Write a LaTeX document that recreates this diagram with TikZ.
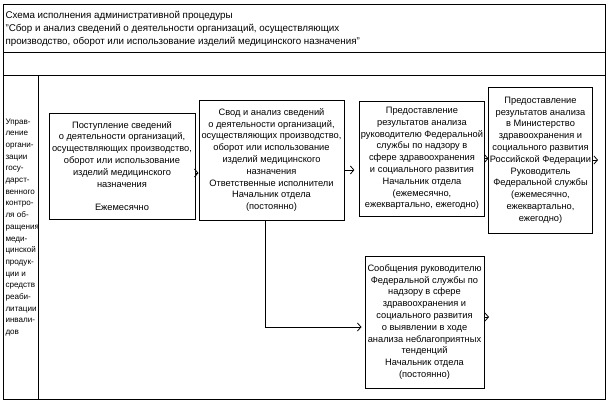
\documentclass[tikz,border=0pt]{standalone}
\usepackage{fontspec}
\setmainfont{Liberation Sans}
\usetikzlibrary{arrows.meta}

\tikzstyle{stage}=[draw=black, line width=1pt, align=center, inner sep=1pt, font=\fontsize{9.3}{11.8}\selectfont]
\tikzstyle{label}=[align=left, inner sep=0pt, anchor=north west, font=\fontsize{8.1}{11.7}\selectfont]
\tikzstyle{flow}=[line width=0.8pt, -{Straight Barb[length=3.5pt,width=8pt]}]

\begin{document}
\begin{tikzpicture}[x=1pt, y=-1pt, line width=1pt]
					\useasboundingbox (0,0) rectangle (610,405);
					% Frame of the table
					\draw (3,4) rectangle (605,399);
					\draw (3,52) -- (605,52);
					\draw (3,75) -- (605,75);
					\draw (38,75) -- (38,399);

					\node[label, font=\fontsize{9.8}{13}\selectfont] (title) at (5,11) {Схема исполнения административной процедуры\\
						"Сбор и анализ сведений о деятельности организаций, осуществляющих\\
						производство, оборот или использование изделий медицинского назначения"};
					\node[label] (dept) at (5,118) {Управ-\\ление\\органи-\\зации\\госу-\\дарст-\\венного\\контро-\\ля об-\\ращения\\меди-\\цинской\\продук-\\ции и\\средств\\реаби-\\литации\\инвали-\\дов};

					% Stages of the procedure
					\node[stage, minimum width=146, minimum height=106] (receipt) at (122,166) {Поступление сведений\\ о деятельности организаций,\\ осуществляющих производство,\\ оборот или использование\\ изделий медицинского\\ назначения\\[11.8pt] Ежемесячно};
					\node[stage, minimum width=145, minimum height=120] (analysis) at (271.5,160) {Свод и анализ сведений\\ о деятельности организаций,\\ осуществляющих производство,\\ оборот или использование\\ изделий медицинского\\ назначения\\ Ответственные исполнители\\ Начальник отдела\\ (постоянно)};
					\node[stage, minimum width=124, minimum height=115] (service) at (422,158.5) {Предоставление\\ результатов анализа\\ руководителю Федеральной\\ службы по надзору в\\ сфере здравоохранения\\ и социального развития\\ Начальник отдела\\ (ежемесячно,\\ ежеквартально, ежегодно)};
					\node[stage, minimum width=103, minimum height=146] (ministry) at (540.5,160) {Предоставление\\ результатов анализа\\ в Министерство\\ здравоохранения и\\ социального развития\\ Российской Федерации\\ Руководитель\\ Федеральной службы\\ (ежемесячно,\\ ежеквартально,\\ ежегодно)};
					\node[stage, minimum width=119, minimum height=132] (report) at (424.5,322) {Сообщения руководителю\\ Федеральной службы по\\ надзору в сфере\\ здравоохранения и\\ социального развития\\ о выявлении в ходе\\ анализа неблагоприятных\\ тенденций\\ Начальник отдела\\ (постоянно)};

					\coordinate (out4) at (598,160);
					\coordinate (out5) at (489,317);

					% Connectors
					\draw[flow] ([yshift=-7]receipt.east) -- ([yshift=-7]receipt.east -| analysis.west);
					\draw[flow, shorten >=5pt] ([yshift=-10]analysis.east) -- ([yshift=-10]analysis.east -| service.west);
					\draw[flow] (service.east) -- (service.east -| ministry.west);
					\draw[flow] (ministry.east) -- (out4);
					\draw[flow] (report.east |- out5) -- (out5);
					\draw[flow, shorten >=3pt] ([xshift=-6]analysis.south) |- ([yshift=-5]report.west);
				\end{tikzpicture}
\end{document}
